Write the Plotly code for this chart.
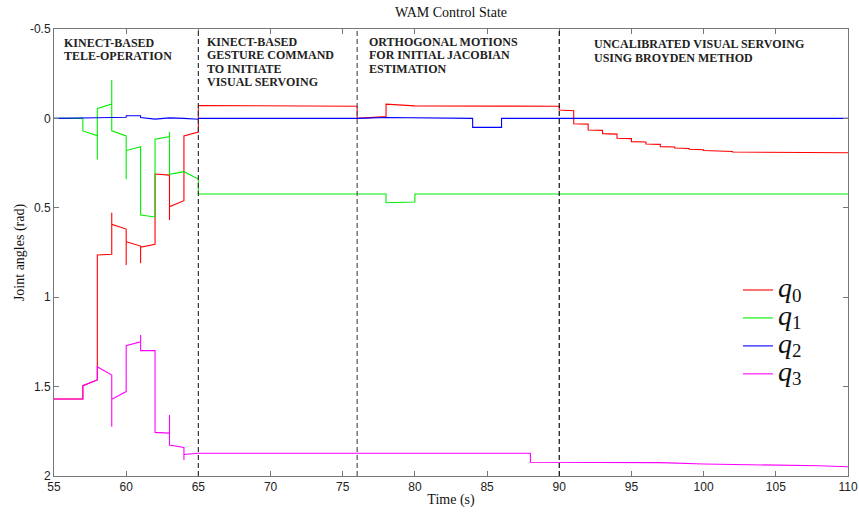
import plotly.graph_objects as go

# ---- data (polyline vertices: time [s], joint angle [rad]) ----
q0_t = [55, 57, 57, 58, 58, 59, 59, 59, 60, 60, 60, 61, 61, 61, 62, 62, 63, 63, 63, 64, 64, 65, 65,
        76, 76, 78, 78, 80, 90, 90, 91, 91, 92, 92, 93, 93, 94, 94, 95, 95, 96, 96, 97, 97, 98, 98,
        99, 99, 100, 100, 101, 101, 102, 102, 104, 106, 110]
q0_v = [1.569, 1.569, 1.495, 1.463, 0.764, 0.760, 0.527, 0.592, 0.619, 0.82, 0.69, 0.714, 0.81, 0.72,
        0.704, 0.311, 0.317, 0.568, 0.494, 0.46, 0.098, 0.076, -0.072,
        -0.068, 0.0, -0.01, -0.08, -0.07, -0.068, -0.047, -0.043, 0.03, 0.032, 0.065, 0.067, 0.085,
        0.088, 0.111, 0.113, 0.130, 0.132, 0.143, 0.145, 0.158, 0.160, 0.166,
        0.168, 0.173, 0.175, 0.180, 0.181, 0.184, 0.185, 0.188, 0.189, 0.190, 0.192]

q1_t = [55, 57, 57, 58, 58, 58, 59, 59, 59, 60, 60, 60, 61, 61, 62, 62, 63, 63, 63, 64, 65, 65,
        78, 78, 80, 80, 110]
q1_v = [0.0, 0.0, 0.070, 0.097, 0.23, -0.056, -0.080, -0.215, 0.069, 0.098, 0.341, 0.18, 0.158, 0.54,
        0.551, 0.117, 0.102, 0.076, 0.313, 0.298, 0.339, 0.423,
        0.423, 0.472, 0.468, 0.423, 0.423]

q2_t = [55, 57, 58, 60, 60, 61, 61, 62, 63, 64, 65, 65, 76, 78, 84, 84, 86, 86, 110]
q2_v = [0.0, 0.0, -0.004, -0.006, -0.015, -0.015, -0.005, 0.004, -0.003, 0.0, 0.005, 0.0,
        0.0, -0.005, 0.0, 0.05, 0.05, 0.0, 0.0]

q3_t = [55, 57, 57, 58, 58, 59, 59, 59, 60, 60, 61, 61, 61, 62, 62, 63, 63, 63, 64, 64, 64, 65,
        88, 88, 97, 100, 104, 108, 110]
q3_v = [1.569, 1.569, 1.495, 1.463, 1.389, 1.435, 1.724, 1.571, 1.528, 1.271, 1.249, 1.211, 1.299,
        1.299, 1.756, 1.760, 1.659, 1.827, 1.840, 1.910, 1.880, 1.873,
        1.873, 1.923, 1.925, 1.933, 1.937, 1.943, 1.948]

phase_bounds = [65, 76, 90]
phase_colors = ["#333333", "#555555", "#111111"]

phase_labels = [
    ["KINECT-BASED", "TELE-OPERATION"],
    ["KINECT-BASED", "GESTURE COMMAND", "TO INITIATE", "VISUAL SERVOING"],
    ["ORTHOGONAL MOTIONS", "FOR INITIAL JACOBIAN", "ESTIMATION"],
    ["UNCALIBRATED VISUAL SERVOING", "USING BROYDEN METHOD"],
]
label_px = [61.5, 205, 366.5, 591.5]
label_py0 = [42.5, 42, 42, 44.5]

series = [("q0", q0_t, q0_v, "#ff0000"),
          ("q1", q1_t, q1_v, "#00ee00"),
          ("q2", q2_t, q2_v, "#0000ff"),
          ("q3", q3_t, q3_v, "#ff00ff")]

x_ticks = list(range(55, 111, 5))
y_ticks = [-0.5, 0, 0.5, 1, 1.5, 2]
y_ticklabels = ["-0.5", "0", "0.5", "1", "1.5", "2"]

# ---- figure ----
W, H = 859, 514
ML, MR, MT, MB = 54, 11, 29, 38
PW, PH = W - ML - MR, H - MT - MB

def px2x(px):
    return (px - ML) / PW

def py2y(py):
    return (H - MB - py) / PH

fig = go.Figure()
for name, t, v, c in series:
    sub = name[1]
    fig.add_trace(go.Scatter(
        x=t, y=v, mode="lines", line=dict(color=c, width=1.1),
        name=f"<i><span style='font-size:28px'>q</span></i><sub><span style='font-size:19px'>{sub}</span></sub>"))

for xb, col in zip(phase_bounds, phase_colors):
    fig.add_vline(x=xb, line=dict(color=col, width=1.2, dash="5px,3px"))

serif = "Liberation Serif"
for lines, px, py0 in zip(phase_labels, label_px, label_py0):
    for i, txt in enumerate(lines):
        fig.add_annotation(text=f"<b>{txt}</b>", xref="paper", yref="paper",
                           x=px2x(px), y=py2y(py0 + i * 13.3), xanchor="left", yanchor="middle",
                           showarrow=False, font=dict(family=serif, size=12, color="#222"))

axis_common = dict(showline=True, linecolor="#777", linewidth=1, mirror="ticks",
                   ticks="inside", ticklen=5, tickcolor="#777", showgrid=False, zeroline=False,
                   automargin=False,
                   tickfont=dict(family="Liberation Sans", size=12, color="#222"))

fig.update_layout(
    width=W, height=H, margin=dict(l=ML, r=MR, t=MT, b=MB, autoexpand=False),
    paper_bgcolor="white", plot_bgcolor="white",
    title=dict(text="WAM Control State", x=451 / W, xanchor="center",
               y=1 - 12 / H, yanchor="middle", font=dict(family=serif, size=14, color="#111")),
    xaxis=dict(range=[55, 110], tickvals=x_ticks,
               title=dict(text="Time (s)", font=dict(family=serif, size=14, color="#111"), standoff=0),
               **axis_common),
    yaxis=dict(range=[2, -0.5], tickvals=y_ticks, ticktext=y_ticklabels,
               title=dict(text="Joint angles (rad)", font=dict(family=serif, size=14, color="#111"), standoff=2),
               **axis_common),
    legend=dict(x=px2x(738), y=py2y(271), xanchor="left", yanchor="top",
                bgcolor="rgba(0,0,0,0)", font=dict(family=serif, size=19.2, color="#111"),
                itemwidth=30, tracegroupgap=0),
    showlegend=True,
)

fig.write_html("out.html", config={"displayModeBar": False},
               post_script="document.body.style.margin='0';document.body.style.overflow='hidden';")
